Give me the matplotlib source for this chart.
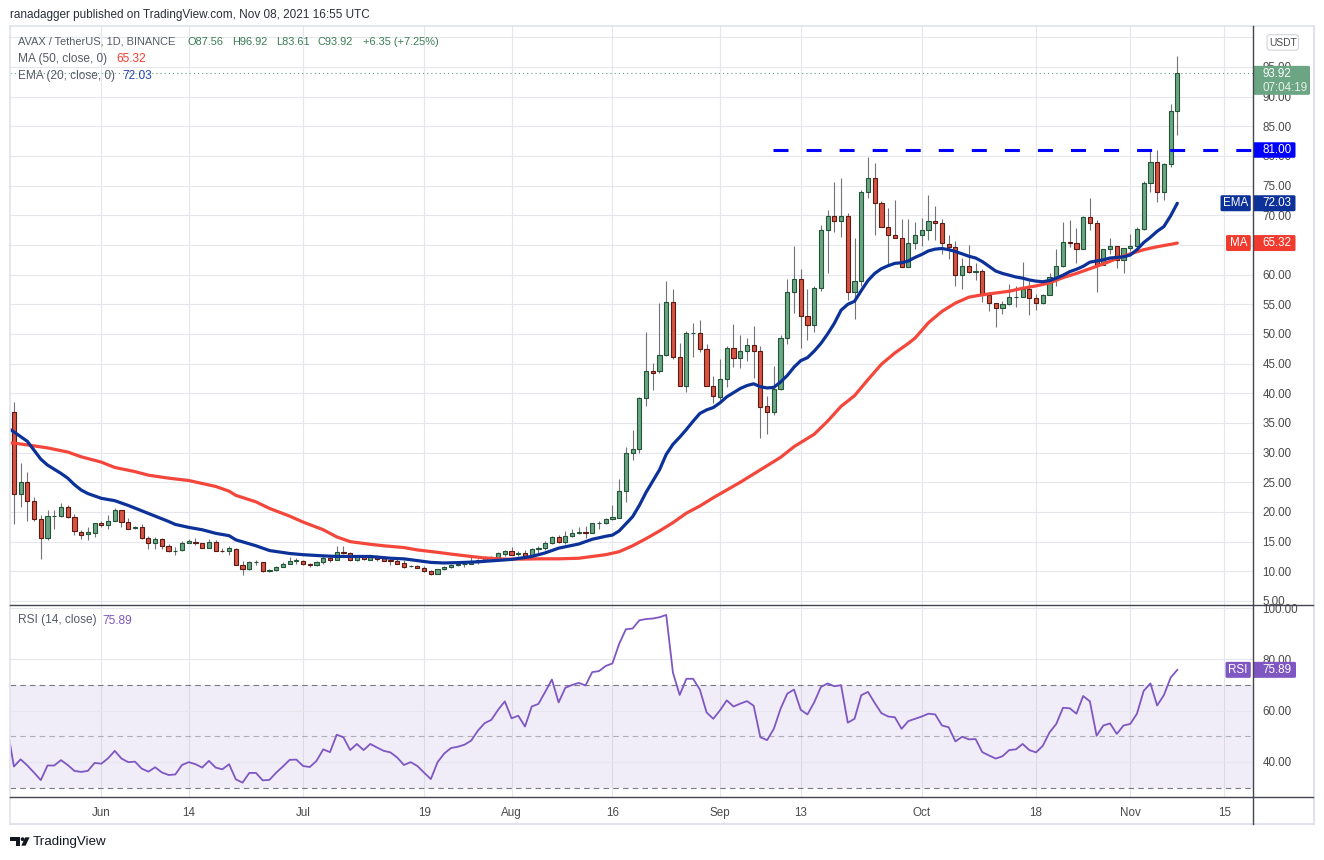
import datetime as dt
import numpy as np
import matplotlib
matplotlib.use("Agg")
import matplotlib.pyplot as plt
from matplotlib.patches import Rectangle, FancyBboxPatch, Polygon, Circle

plt.rcParams['font.family'] = ['Liberation Sans', 'DejaVu Sans']
plt.rcParams['lines.scale_dashes'] = False

# ---------------- data ----------------
start_date = dt.date(2021, 5, 19)

opens = [36.8, 23.0, 25.0, 21.8, 18.8, 15.6, 19.3, 19.3, 20.8, 19.1,
         16.7, 16.3, 16.4, 18.1, 17.75, 18.5, 20.3, 18.3, 17.3, 17.4,
         15.6, 14.7, 15.4, 14.2, 13.4, 13.6, 14.8, 15.0, 14.7, 14.0,
         14.9, 13.5, 13.4, 13.8, 11.1, 10.4, 11.5, 11.5, 10.1, 10.3,
         10.8, 11.3, 11.8, 11.8, 11.2, 11.0, 11.5, 12.25, 11.95, 13.3,
         13.0, 11.95, 12.5, 11.95, 12.35, 12.2, 11.85, 11.8, 11.35, 10.9,
         10.95, 10.6, 10.1, 9.6, 10.4, 10.7, 11.0, 11.2, 11.3, 11.5,
         11.85, 12.3, 12.3, 12.9, 13.5, 12.9, 13.05, 12.5, 13.7, 13.9,
         14.7, 15.8, 14.9, 16.0, 16.4, 16.6, 16.5, 18.1, 18.1, 18.8,
         19.0, 23.5, 29.9, 30.6, 39.2, 43.7, 43.7, 46.5, 55.4, 46.2,
         41.3, 50.1, 50.1, 47.4, 41.3, 39.4, 42.4, 47.6, 45.9, 47.1,
         48.1, 47.1, 37.9, 36.9, 40.7, 49.3, 57.0, 59.2, 53.1, 51.5,
         57.7, 67.5, 69.9, 69.0, 69.9, 57.1, 58.9, 74.0, 76.3, 72.1,
         68.1, 66.6, 66.2, 61.3, 65.4, 66.7, 67.6, 69.0, 68.65, 65.1,
         64.6, 59.9, 61.4, 60.45, 60.6, 56.5, 55.2, 54.3, 55.1, 56.2,
         56.3, 57.5, 56.0, 55.3, 56.6, 59.6, 61.4, 65.5, 65.3, 64.4,
         69.7, 68.65, 61.7, 64.3, 64.8, 62.4, 64.55, 64.8, 67.7, 75.45,
         78.9, 74.0, 78.6, 87.56]

highs = [38.5, 28.2, 26.7, 22.5, 19.5, 20.4, 20.3, 21.5, 21.1, 19.6,
         16.9, 17.4, 18.2, 18.5, 19.5, 20.7, 20.4, 19.0, 17.7, 18.0,
         16.0, 15.7, 15.6, 14.6, 14.1, 15.1, 15.4, 15.6, 14.8, 15.4,
         15.3, 13.9, 14.2, 14.0, 11.7, 11.7, 11.85, 11.6, 10.45, 10.95,
         11.6, 12.4, 12.2, 11.9, 11.4, 11.7, 12.8, 12.4, 14.2, 14.2,
         13.2, 12.8, 12.8, 12.75, 12.75, 12.5, 12.0, 12.1, 11.9, 11.05,
         11.05, 10.85, 10.3, 10.45, 10.95, 11.2, 11.4, 11.65, 12.7, 12.1,
         12.6, 12.6, 13.25, 13.65, 14.1, 13.4, 13.6, 13.95, 14.3, 15.1,
         16.0, 16.1, 16.8, 17.1, 17.5, 17.6, 18.2, 18.5, 18.9, 21.2,
         25.6, 31.0, 33.8, 39.4, 50.4, 45.1, 55.2, 58.9, 57.6, 48.5,
         50.5, 51.9, 52.4, 48.3, 42.9, 45.7, 48.0, 51.7, 49.8, 49.3,
         51.3, 47.9, 39.6, 44.6, 49.9, 59.3, 64.8, 61.0, 57.5, 58.1,
         68.4, 70.9, 75.6, 76.2, 70.4, 66.1, 74.3, 79.9, 78.8, 72.4,
         71.3, 72.6, 69.4, 69.3, 68.8, 69.5, 73.4, 71.6, 69.3, 66.7,
         65.6, 62.8, 65.0, 61.9, 61.0, 57.1, 55.3, 55.6, 58.4, 58.1,
         62.2, 58.9, 56.8, 56.8, 60.3, 64.3, 68.9, 69.2, 67.8, 69.9,
         72.9, 69.2, 64.4, 66.2, 64.9, 64.5, 66.8, 68.0, 75.7, 80.8,
         81.0, 78.8, 88.8, 96.92]

lows = [17.9, 20.9, 18.5, 18.4, 12.1, 15.2, 17.1, 19.2, 19.0, 16.2,
        15.4, 15.2, 15.8, 17.4, 17.2, 18.4, 17.5, 17.1, 17.1, 15.5,
        13.7, 13.8, 13.7, 13.3, 12.8, 13.5, 14.7, 14.5, 13.9, 13.9,
        13.4, 13.3, 12.8, 11.0, 9.4, 10.3, 11.0, 9.95, 9.95, 10.1,
        10.75, 11.2, 11.2, 11.0, 10.7, 10.95, 11.3, 11.6, 11.85, 12.9,
        11.8, 11.75, 11.85, 11.85, 11.75, 11.7, 11.05, 11.2, 10.6, 10.8,
        10.5, 9.95, 9.4, 9.5, 10.3, 10.6, 10.9, 10.75, 11.2, 11.3,
        11.7, 12.1, 12.2, 12.6, 12.7, 12.65, 12.4, 12.4, 13.15, 13.6,
        14.6, 14.75, 14.6, 15.8, 16.3, 15.6, 16.4, 17.2, 17.9, 18.7,
        18.9, 21.6, 28.8, 29.9, 37.8, 40.6, 43.5, 46.3, 45.7, 41.2,
        40.3, 46.2, 47.0, 41.2, 38.3, 38.7, 41.1, 44.5, 44.2, 45.5,
        42.5, 32.4, 33.2, 36.3, 40.5, 48.3, 53.6, 47.7, 48.9, 50.4,
        57.2, 60.3, 67.2, 66.4, 55.8, 52.6, 58.0, 72.9, 66.6, 68.0,
        61.7, 66.1, 61.2, 61.2, 64.3, 64.8, 65.8, 65.8, 63.5, 62.6,
        58.1, 57.5, 60.3, 59.1, 55.4, 53.8, 51.1, 53.3, 54.9, 54.5,
        56.2, 53.2, 54.0, 55.1, 56.5, 58.1, 61.2, 64.7, 62.0, 64.3,
        67.6, 57.1, 61.6, 63.5, 61.1, 60.3, 64.0, 64.5, 67.6, 74.0,
        72.2, 72.5, 78.2, 83.61]

closes = [23.0, 25.0, 21.8, 18.8, 15.6, 19.4, 19.4, 20.8, 19.1, 16.8,
          16.1, 16.6, 18.1, 17.75, 18.5, 20.3, 18.3, 17.2, 17.4, 15.6,
          14.7, 15.4, 14.2, 13.4, 13.5, 14.7, 15.1, 14.7, 14.0, 14.9,
          13.5, 13.4, 13.9, 11.1, 10.4, 11.5, 11.6, 10.1, 10.3, 10.8,
          11.3, 11.8, 11.85, 11.2, 11.0, 11.5, 12.25, 11.9, 13.3, 13.0,
          11.95, 12.5, 12.0, 12.35, 12.1, 11.8, 11.8, 11.3, 10.7, 10.95,
          10.6, 10.1, 9.6, 10.35, 10.7, 11.0, 11.2, 11.3, 11.5, 11.9,
          12.35, 12.4, 13.0, 13.5, 12.8, 13.05, 12.5, 13.7, 14.0, 14.7,
          15.8, 14.9, 16.0, 16.4, 16.7, 16.5, 18.1, 18.2, 18.8, 19.2,
          23.5, 29.9, 30.6, 39.2, 43.7, 43.5, 46.5, 55.4, 46.2, 41.3,
          50.1, 50.2, 47.4, 41.3, 39.5, 42.4, 47.6, 45.9, 47.1, 48.1,
          47.1, 37.75, 36.9, 40.7, 49.3, 57.0, 59.2, 53.1, 51.5, 57.7,
          67.5, 69.9, 69.0, 69.9, 57.1, 58.9, 74.0, 76.3, 72.1, 68.1,
          66.6, 66.2, 61.3, 65.4, 66.7, 67.6, 69.0, 68.65, 65.3, 64.6,
          59.9, 61.4, 60.4, 60.6, 56.5, 55.2, 54.3, 55.1, 56.2, 56.3,
          57.5, 56.0, 55.3, 56.6, 59.6, 61.4, 65.5, 65.3, 64.4, 69.7,
          68.65, 61.6, 64.3, 64.8, 62.4, 64.5, 64.8, 67.7, 75.45, 78.9,
          74.0, 78.6, 87.56, 93.92]

# EMA(20): day offsets from start_date and values
ema_day = [-1, 0, 2, 3, 4, 5, 6, 7, 8, 9, 10, 11, 12, 13, 15, 17, 19, 21, 23, 24,
           26, 28, 30, 32, 33, 36, 38, 41, 43, 46, 48, 53, 56, 58, 60, 62, 64, 67, 69, 72,
           74, 77, 79, 81, 84, 86, 88, 89, 90, 91, 92, 93, 94, 95, 96, 97, 98, 99, 100, 101,
           102, 103, 104, 105, 106, 107, 108, 109, 110, 111, 112, 113, 114, 115, 116, 117, 118, 119, 120, 121,
           122, 123, 124, 125, 126, 127, 128, 129, 130, 131, 132, 133, 134, 135, 136, 137, 138, 139, 140, 141,
           142, 143, 144, 145, 146, 147, 148, 149, 150, 151, 152, 153, 154, 155, 156, 157, 158, 159, 160, 161,
           162, 163, 164, 165, 166, 167, 168, 169, 170, 171, 172, 173]
ema_val = [34.2, 33.5, 31.9, 30.4, 28.9, 27.9, 27.2, 26.5, 25.7, 24.6, 23.7, 23.1, 22.7, 22.3, 21.9, 21.1, 20.2, 19.3, 18.4, 17.9,
           17.4, 17.0, 16.4, 16.0, 15.3, 14.3, 13.5, 13.0, 12.8, 12.6, 12.5, 12.5, 12.2, 12.1, 11.8, 11.5, 11.4, 11.5, 11.6, 11.85,
           12.0, 12.5, 13.1, 13.9, 14.6, 15.4, 15.9, 16.1, 16.8, 18.0, 19.2, 21.1, 23.3, 25.2, 27.1, 29.7, 31.4, 32.6, 33.9, 35.3,
           36.6, 37.2, 37.6, 38.4, 39.4, 40.1, 40.8, 41.3, 41.6, 41.1, 40.9, 41.0, 41.9, 43.0, 44.4, 45.5, 46.0, 47.1, 48.4, 50.0,
           51.8, 54.0, 55.0, 55.5, 57.3, 59.0, 60.2, 61.0, 61.5, 61.9, 62.0, 62.3, 62.9, 63.4, 64.0, 64.3, 64.4, 64.2, 63.9, 63.5,
           63.1, 62.8, 62.2, 61.4, 60.6, 60.2, 59.9, 59.6, 59.4, 59.1, 58.9, 58.8, 59.0, 59.4, 59.9, 60.5, 60.9, 61.4, 62.1, 62.3,
           62.5, 62.8, 62.9, 63.0, 63.3, 64.2, 65.4, 66.3, 67.3, 68.1, 69.9, 72.03]

# MA(50)
ma_day = [-1, 0, 2, 5, 8, 10, 13, 15, 18, 20, 23, 26, 28, 30, 32, 33, 36, 38, 41, 43,
          46, 48, 50, 53, 55, 58, 60, 63, 65, 68, 70, 73, 75, 78, 81, 84, 86, 88, 90, 92,
          94, 96, 98, 100, 102, 104, 106, 108, 110, 112, 114, 116, 118, 119, 121, 123, 125, 127, 129, 131,
          133, 134, 136, 138, 140, 142, 144, 146, 148, 150, 152, 154, 156, 158, 160, 162, 164, 166, 168, 170,
          172, 173]
ma_val = [31.65, 31.6, 31.3, 30.8, 30.1, 29.3, 28.4, 27.5, 26.8, 26.2, 25.7, 25.3, 24.8, 24.3, 23.5, 22.8, 21.7, 20.6, 19.3, 18.3,
          17.0, 15.8, 15.0, 14.55, 14.3, 14.0, 13.6, 13.2, 12.9, 12.5, 12.25, 12.05, 12.05, 12.1, 12.1, 12.2, 12.5, 12.8, 13.3, 14.3,
          15.5, 16.8, 18.2, 19.8, 21.0, 22.4, 23.7, 25.0, 26.4, 27.8, 29.2, 31.0, 32.4, 33.1, 35.3, 37.8, 39.6, 42.3, 44.9, 46.8,
          48.4, 49.3, 51.9, 53.8, 55.2, 56.2, 56.6, 56.9, 57.2, 57.7, 58.1, 58.6, 59.5, 60.2, 61.0, 61.8, 62.7, 63.5, 64.2, 64.7,
          65.1, 65.32]

# RSI(14), one value per day starting one day before start_date
rsi = [53.6,
       38.2, 41.0, 38.6, 35.8, 32.9, 38.6, 38.6, 40.7, 38.8, 36.5,
       36.1, 36.5, 39.6, 39.3, 41.4, 44.3, 41.3, 39.9, 40.1, 37.4,
       36.2, 37.9, 35.9, 34.9, 35.1, 38.8, 39.9, 39.1, 37.8, 40.4,
       37.8, 37.1, 39.1, 33.2, 31.9, 35.7, 35.7, 32.8, 33.0, 35.8,
       38.2, 40.8, 40.9, 38.4, 38.0, 40.4, 44.9, 43.8, 50.6, 49.6,
       44.6, 47.0, 44.6, 47.0, 45.6, 44.3, 43.7, 41.7, 38.8, 39.9,
       38.4, 35.8, 33.3, 39.9, 43.3, 45.4, 45.9, 46.7, 48.3, 52.2,
       55.1, 56.4, 60.3, 63.6, 57.0, 58.0, 53.8, 61.6, 62.6, 67.3,
       72.1, 63.2, 68.9, 70.0, 70.8, 69.8, 75.0, 75.4, 77.4, 78.4,
       86.0, 91.7, 92.0, 95.2, 95.7, 95.9, 96.4, 97.3, 74.8, 66.1,
       72.4, 72.4, 68.2, 59.3, 56.8, 60.1, 64.0, 61.6, 62.7, 63.7,
       61.9, 49.6, 48.5, 52.9, 60.7, 66.6, 68.2, 60.3, 58.5, 63.2,
       69.2, 70.6, 69.5, 69.9, 55.3, 56.8, 66.0, 67.3, 63.0, 59.0,
       57.7, 57.4, 52.9, 55.9, 56.8, 57.7, 58.8, 58.5, 54.2, 53.5,
       48.0, 49.8, 48.8, 48.9, 43.8, 42.5, 41.3, 42.2, 44.6, 44.9,
       47.0, 44.6, 43.7, 46.3, 51.5, 54.8, 61.1, 60.9, 58.8, 65.7,
       63.6, 50.2, 54.2, 55.0, 50.9, 54.2, 54.8, 58.8, 67.7, 70.6,
       62.0, 66.0, 72.8, 75.89]

change_abs = 6.35
change_pct = 7.25
level_price = 81.00
level_start = dt.date(2021, 9, 9)
tick_dates = [dt.date(2021, 6, 1), dt.date(2021, 6, 14), dt.date(2021, 7, 1), dt.date(2021, 7, 19),
              dt.date(2021, 8, 1), dt.date(2021, 8, 16), dt.date(2021, 9, 1), dt.date(2021, 9, 13),
              dt.date(2021, 10, 1), dt.date(2021, 10, 18), dt.date(2021, 11, 1), dt.date(2021, 11, 15)]
tick_labels = ['Jun', '14', 'Jul', '19', 'Aug', '16', 'Sep', '13', 'Oct', '18', 'Nov', '15']
price_grid = list(range(5, 101, 5))
price_ticks = [5, 10, 15, 20, 25, 30, 35, 40, 45, 50, 55, 60, 70, 75, 80, 85, 90, 95]
rsi_ticks = [40, 60, 80, 100]

# ---------------- figure ----------------
W, H = 1324, 860
fig = plt.figure(figsize=(W / 100, H / 100), dpi=100)
fig.patch.set_facecolor('white')


def rect(l, t, r, b):
    return [l / W, 1 - b / H, (r - l) / W, (b - t) / H]


ax = fig.add_axes(rect(10, 26, 1252.5, 605))
axr = fig.add_axes(rect(10, 605, 1252.5, 797.3))
ov = fig.add_axes([0, 0, 1, 1], zorder=10)
ov.set_xlim(0, W)
ov.set_ylim(H, 0)
ov.axis('off')
ov.patch.set_visible(False)

X0, X1 = -0.58, 184.18
GRID = '#e6e7ec'
TXT = '#4a4a4a'

o = np.array(opens); h = np.array(highs); lo = np.array(lows); c = np.array(closes)
x = np.arange(len(o))
tick_pos = [(d - start_date).days for d in tick_dates]

for a in (ax, axr):
    a.set_xlim(X0, X1)
    for s in a.spines.values():
        s.set_visible(False)
    for tp in tick_pos:
        a.axvline(tp, color=GRID, lw=0.8, zorder=0)

# price panel
ax.set_ylim(4.32, 101.9)
for v in price_grid:
    ax.axhline(v, color=GRID, lw=0.8, zorder=0)
ax.yaxis.tick_right()
ax.set_yticks(price_ticks)
ax.set_yticklabels([f'{v:.2f}' for v in price_ticks])
ax.tick_params(axis='y', length=0, pad=7.2, labelsize=8.4, labelcolor=TXT)
ax.tick_params(axis='x', bottom=False, labelbottom=False)

up = c >= o
lo_body = np.minimum(o, c)
hb = np.abs(c - o)
ax.vlines(x, lo, h, color='#737375', lw=0.8, zorder=2)
ax.bar(x[up], hb[up], bottom=lo_body[up], width=0.62, color='#6ba583',
       edgecolor='#225437', linewidth=0.8, zorder=3)
ax.bar(x[~up], hb[~up], bottom=lo_body[~up], width=0.62, color='#d75442',
       edgecolor='#5b1a13', linewidth=0.8, zorder=3)

ax.plot(ma_day, ma_val, color='#f4463a', lw=2.3, zorder=4, solid_capstyle='round')
ax.plot(ema_day, ema_val, color='#0c3299', lw=2.3, zorder=5, solid_capstyle='round')

ls = (level_start - start_date).days - 0.1
ax.plot([ls, X1], [level_price, level_price], color='#0000ff', lw=2.2,
        dashes=(10.8, 13.0), zorder=6, dash_capstyle='butt')
ax.axhline(c[-1], color='#5c9e78', lw=0.8, dashes=(0.8, 2.2), zorder=1)

# RSI panel
axr.set_ylim(26.2, 101.17)
axr.axhspan(30, 70, color='#7e57c2', alpha=0.1, lw=0, zorder=0)
for v in rsi_ticks:
    axr.axhline(v, color=GRID, lw=0.8, zorder=0.5)
axr.axhline(70, color='#787b86', lw=0.8, dashes=(4, 3), zorder=1)
axr.axhline(30, color='#787b86', lw=0.8, dashes=(4, 3), zorder=1)
axr.axhline(50, color='#acaeb6', lw=0.8, dashes=(4, 3), zorder=1)
axr.plot(np.arange(-1, len(rsi) - 1), rsi, color='#7e57c2', lw=1.3, zorder=3)
axr.yaxis.tick_right()
axr.set_yticks(rsi_ticks)
axr.set_yticklabels([f'{v:.2f}' for v in rsi_ticks])
axr.tick_params(axis='y', length=0, pad=7.2, labelsize=8.4, labelcolor=TXT)
axr.set_xticks(tick_pos)
axr.set_xticklabels(tick_labels)
axr.tick_params(axis='x', length=0, pad=7.0, labelsize=8.4, labelcolor=TXT)

# ---------------- overlay: frame, labels, legends ----------------
def ypix(a, v):
    return H - a.transData.transform((0, v))[1]

BORDER = '#e0e3eb'
DARK = '#434651'
ov.plot([9.5, 1313.5], [26, 26], color=BORDER, lw=1.2)
ov.plot([9.5, 9.5], [26, 824], color=BORDER, lw=1.2)
ov.plot([1313.5, 1313.5], [26, 824], color=BORDER, lw=1.5)
ov.plot([9.5, 1313.5], [824, 824], color=BORDER, lw=1.5)
ov.plot([10, 1313], [605, 605], color=DARK, lw=1.0)
ov.plot([10, 1313], [797.3, 797.3], color=DARK, lw=1.0)
ov.plot([1252.5, 1252.5], [26, 824], color=DARK, lw=1.0)


def tag(x0, x1, yc, hgt, color, text, tx=None, ha='left', fs=8.4, tcolor='white'):
    ov.add_patch(FancyBboxPatch((x0, yc - hgt / 2), x1 - x0, hgt,
                                boxstyle='round,pad=0,rounding_size=1.5',
                                fc=color, ec='none'))
    ov.text(tx if tx is not None else x0 + 9.5, yc, text, color=tcolor, fontsize=fs,
            ha=ha, va='center')


# USDT box
ov.add_patch(FancyBboxPatch((1267, 34.7), 31.5, 15.5, boxstyle='round,pad=0,rounding_size=3',
                            fc='white', ec='#d1d4dc', lw=0.8))
ov.text(1282.7, 42.6, 'USDT', fontsize=7.4, color='#4a4a4a', ha='center', va='center')

# last price box
yc_last = ypix(ax, c[-1])
ov.add_patch(FancyBboxPatch((1253, yc_last - 7.5), 57, 29, boxstyle='round,pad=0,rounding_size=1.5',
                            fc='#6ba583', ec='none'))
ov.text(1262.5, yc_last + 0.5, f'{c[-1]:.2f}', color='white', fontsize=8.4, va='center')
ov.text(1262.5, yc_last + 14.5, '07:04:19', color='#e6f1ea', fontsize=8.4, va='center')

tag(1253, 1295.5, ypix(ax, level_price), 15.5, '#0000ff', f'{level_price:.2f}')
y_ema = ypix(ax, ema_val[-1])
tag(1220.5, 1250.8, y_ema, 16, '#0c3299', 'EMA', tx=1235.6, ha='center')
tag(1253, 1295.5, y_ema, 16, '#0c3299', f'{ema_val[-1]:.2f}')
y_ma = ypix(ax, ma_val[-1])
tag(1226, 1250.8, y_ma, 16, '#f23b2f', 'MA', tx=1238.4, ha='center')
tag(1253, 1295.5, y_ma, 16, '#f23b2f', f'{ma_val[-1]:.2f}')
y_rsi = ypix(axr, rsi[-1])
tag(1225.5, 1250.8, y_rsi, 16, '#7e57c2', 'RSI', tx=1238.1, ha='center')
tag(1253, 1296, y_rsi, 16, '#7e57c2', f'{rsi[-1]:.2f}')

# header
ov.text(10, 15, 'ranadagger published on TradingView.com, Nov 08, 2021 16:55 UTC',
        fontsize=8.5, color='#2a2e39', va='center')

# legends
LG = '#555a66'
GREEN = '#3a7d55'
fs = 8.6
fs1 = 7.9
ov.text(18, 41.7, 'AVAX / TetherUS, 1D, BINANCE', fontsize=fs1, color=LG, va='center')
ov.text(187, 41.7, f'O{o[-1]:.2f}', fontsize=fs1, color=GREEN, va='center')
ov.text(232, 41.7, f'H{h[-1]:.2f}', fontsize=fs1, color=GREEN, va='center')
ov.text(276, 41.7, f'L{lo[-1]:.2f}', fontsize=fs1, color=GREEN, va='center')
ov.text(317, 41.7, f'C{c[-1]:.2f}', fontsize=fs1, color=GREEN, va='center')
ov.text(363, 41.7, f'+{change_abs:.2f} (+{change_pct:.2f}%)', fontsize=fs1, color=GREEN, va='center')
ov.text(18, 59.3, 'MA (50, close, 0)', fontsize=fs, color=LG, va='center')
ov.text(116, 59.3, f'{ma_val[-1]:.2f}', fontsize=fs, color='#f23b2f', va='center')
ov.text(18, 76, 'EMA (20, close, 0)', fontsize=fs, color=LG, va='center')
ov.text(122, 76, f'{ema_val[-1]:.2f}', fontsize=fs, color='#2446b0', va='center')
ov.text(18, 620.5, 'RSI (14, close)', fontsize=fs, color=LG, va='center')
ov.text(102, 620.5, f'{rsi[-1]:.2f}', fontsize=fs, color='#7e57c2', va='center')

# TradingView logo
LOGO = '#131722'
ov.add_patch(Rectangle((10.3, 837.3), 9.2, 3.4, fc=LOGO, ec='none'))
ov.add_patch(Rectangle((15.6, 837.3), 3.9, 8.4, fc=LOGO, ec='none'))
ov.add_patch(Circle((22.6, 839.2), 1.9, fc=LOGO, ec='none'))
ov.add_patch(Polygon([(25.2, 837.3), (29.6, 837.3), (25.6, 845.7), (21.3, 845.7)], closed=True,
                     fc=LOGO, ec='none'))
ov.text(32.5, 842.2, 'TradingView', fontsize=9.6, color=LOGO, va='center')

fig.savefig('out.png', dpi=100)
